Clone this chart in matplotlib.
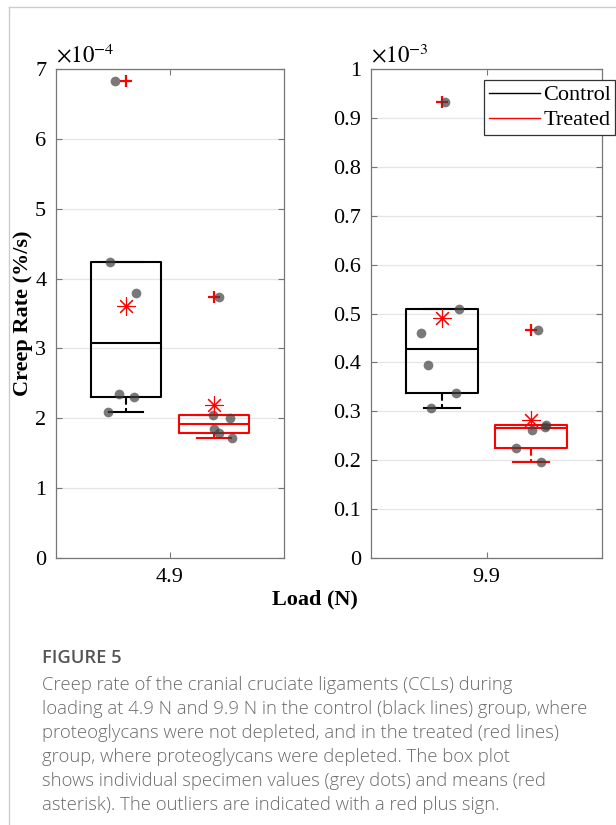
"""
Creep rate of CCLs, control vs treated, box plots at two loads
"""

###############################################################################
# Libraries
import numpy as np
import matplotlib.pyplot as plt
from matplotlib.lines import Line2D
from matplotlib.ticker import FuncFormatter, MultipleLocator

plt.rcParams['font.family'] = ['Liberation Serif', 'DejaVu Serif']
plt.rcParams['mathtext.fontset'] = 'stix'

####################################
# Data (creep rate, %/s, in units of 10^exp)
loads = ['4.9', '9.9']
exps = [-4, -3]
ymax = [7, 1]
ystep = [1, 0.1]

ctrl_49 = [6.83, 4.24, 3.80, 2.35, 2.31, 2.09]
trt_49 = [3.74, 2.05, 2.01, 1.84, 1.79, 1.72]
ctrl_99 = [0.932, 0.510, 0.460, 0.395, 0.338, 0.306]
trt_99 = [0.467, 0.272, 0.268, 0.262, 0.226, 0.197]

# horizontal jitter of the grey dots around each box centre
jit_ctrl_49 = [-0.048, -0.070, 0.044, -0.031, 0.035, -0.079]
jit_trt_49 = [0.022, -0.004, 0.070, 0.000, 0.022, 0.079]
jit_ctrl_99 = [0.013, 0.074, -0.091, -0.060, 0.061, -0.047]
jit_trt_99 = [0.030, 0.065, 0.060, 0.004, -0.065, 0.043]

groups = [[(ctrl_49, jit_ctrl_49), (trt_49, jit_trt_49)],
          [(ctrl_99, jit_ctrl_99), (trt_99, jit_trt_99)]]

####################################
# Styles
pos = [0.807, 1.193]
cols = ['black', 'red']
box_w = 0.31
cap_w = 0.153
spine_c = '#777777'

####################################
# Box statistics (MATLAB style quantiles)
def box_stats(v, whis=1.0):
    v = np.asarray(v, float)
    q1, med, q3 = np.percentile(v, [25, 50, 75], method='hazen')
    iqr = q3 - q1
    ok = (v >= q1 - whis*iqr) & (v <= q3 + whis*iqr)
    return dict(q1=q1, med=med, q3=q3, whislo=v[ok].min(), whishi=v[ok].max(),
                fliers=v[~ok])

def draw_group(ax, vals, jit, x, col):
    st = box_stats(vals)
    lp = dict(color=col, lw=1.5)
    ax.bxp([st], positions=[x], widths=box_w, capwidths=[cap_w], showfliers=False,
           boxprops=lp, medianprops=lp, capprops=lp,
           whiskerprops=dict(color=col, lw=1.5, ls='--'), manage_ticks=False)
    fl = st['fliers']
    ax.plot(np.full(len(fl), x), fl, '+', color='red', ms=9, mew=1.6, zorder=4)
    ax.plot(x + np.asarray(jit), vals, 'o', color='#404040', alpha=0.7,
            ms=7, mec='none', zorder=5)
    ax.plot(x, np.mean(vals), marker=(8, 2, 0), color='red', ms=13, mew=0.8,
            ls='none', zorder=6)

####################################
# Figure
fig = plt.figure(figsize=(6.16, 8.25), dpi=100)
rects = [[0.0909, 0.3236, 0.370, 0.5927], [0.6023, 0.3236, 0.375, 0.5927]]

for k in range(2):
    ax = fig.add_axes(rects[k])
    for (vals, jit), x, col in zip(groups[k], pos, cols):
        draw_group(ax, vals, jit, x, col)
    ax.set_xlim(0.5, 1.5)
    ax.set_ylim(0, ymax[k])
    ax.set_xticks([1])
    ax.set_xticklabels([loads[k]])
    ax.yaxis.set_major_locator(MultipleLocator(ystep[k]))
    ax.yaxis.set_major_formatter(FuncFormatter(lambda v, p: '%g' % round(v, 6)))
    ax.tick_params(direction='in', top=True, right=True, length=4, width=0.8,
                   color=spine_c, labelsize=16, pad=7)
    for s in ax.spines.values():
        s.set_color(spine_c)
        s.set_linewidth(0.9)
    ax.yaxis.grid(True, color='#e6e6e6', lw=1)
    ax.set_axisbelow(True)
    ax.text(0.0, 1.004, r'$\times10^{\mathrm{-}%d}$' % -exps[k], transform=ax.transAxes,
            ha='left', va='bottom', fontsize=16.5)
    if k == 1:
        h = [Line2D([], [], color='black', lw=1), Line2D([], [], color='red', lw=1)]
        leg = ax.legend(h, ['Control', 'Treated'], loc='upper right',
                        bbox_to_anchor=(1.058, 0.977), borderaxespad=0,
                        fontsize=16, fancybox=False, handlelength=2.3,
                        handletextpad=0.15, borderpad=0.2, labelspacing=0.2,
                        framealpha=1)
        leg.get_frame().set_edgecolor('#333333')
        leg.get_frame().set_linewidth(0.9)

fig.text(0.0375, 0.6200, 'Creep Rate (%/s)', rotation=90, ha='center', va='center',
         fontsize=16, fontweight='bold')
fig.text(0.511, 0.273, 'Load (N)', ha='center', va='center',
         fontsize=16, fontweight='bold')

####################################
# Caption
cap_lines = ['Creep rate of the cranial cruciate ligaments (CCLs) during',
             'loading at 4.9 N and 9.9 N in the control (black lines) group, where',
             'proteoglycans were not depleted, and in the treated (red lines)',
             'group, where proteoglycans were depleted. The box plot',
             'shows individual specimen values (grey dots) and means (red',
             'asterisk). The outliers are indicated with a red plus sign.']
x0 = 42/616
fig.text(x0, 1 - 663/825, 'FIGURE 5', ha='left', va='baseline', fontsize=13.2,
         family='Open Sans', fontweight='semibold', color='#555555')
for i, line in enumerate(cap_lines):
    fig.text(x0, 1 - (690 + 24*i)/825, line, ha='left', va='baseline',
             fontsize=13.3, family='Open Sans', fontweight='light', color='#6a6a6a')

# page frame
fig.add_artist(Line2D([9/616, 1], [1 - 7/825, 1 - 7/825], color='#cccccc', lw=1))
fig.add_artist(Line2D([9/616, 9/616], [0, 1 - 7/825], color='#cccccc', lw=1))

plt.savefig('out.png', dpi=100)
plt.close()
